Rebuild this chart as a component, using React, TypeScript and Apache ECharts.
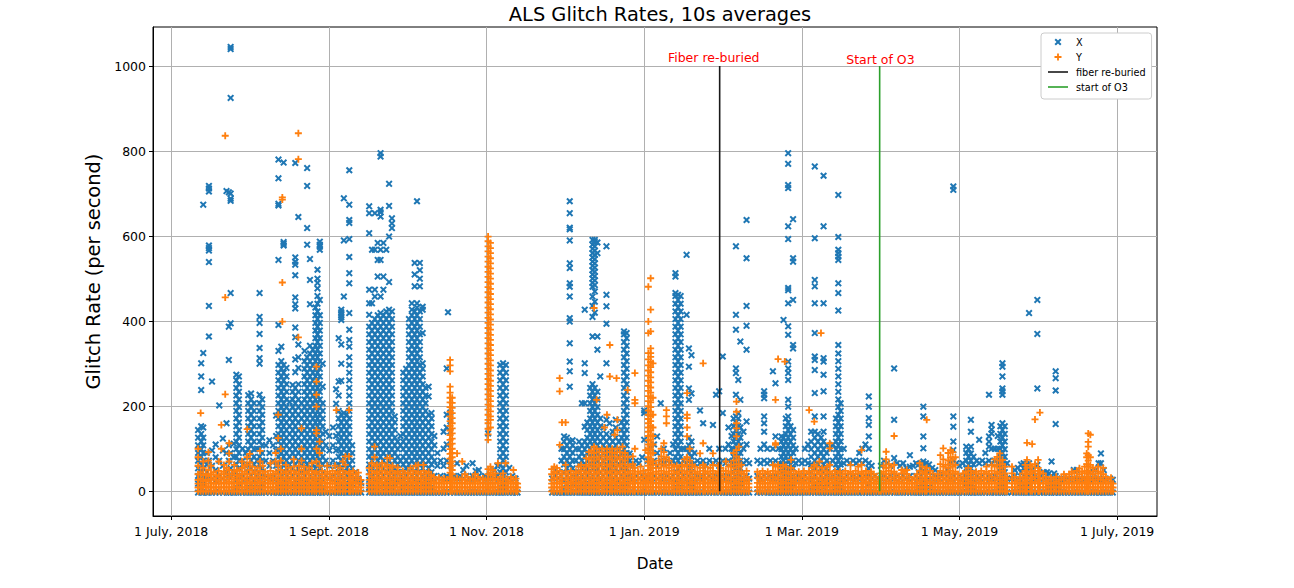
import React, { useEffect, useRef } from 'react'
import * as echarts from 'echarts'

// x values are days counted from 1 July 2018 (tick marks every 61 days)
const tickDays = [0, 61, 122, 183, 244, 305, 366]
const tickLabels = ['1 July, 2018', '1 Sept. 2018', '1 Nov. 2018', '1 Jan. 2019', '1 Mar. 2019', '1 May, 2019', '1 July, 2019']
const rateTicks = [0, 200, 400, 600, 800, 1000]

const fiberDay = 212.2
const o3Day = 274.1
const markerTop = 1000
const notes: [number, number, string][] = [
  [209.9, 1020, 'Fiber re-buried'],
  [274.4, 1016, 'Start of O3'],
]

// each column: [day, rate, rate, ...]
const xJulAug = [
  [10.4, -3, 18, 36, 54, 72, 90, 108, 126, 144],
  [11.6, -3, 9, 27, 45, 63, 81, 99, 117, 135, 153, 238, 270, 301],
  [12.4, -3, 18, 36, 54, 72, 90, 108, 126, 150, 325, 674],
  [13.8, -3, 27, 45, 63, 90],
  [14.6, -3, 36, 72, 364, 436, 539, 566, 572, 578, 705, 712, 718],
  [15.8, -3, 30, 60, 96, 258],
  [17.2, -3, 24, 50, 80, 110],
  [18.6, -3, 36, 72, 202],
  [20.0, -3, 30, 60, 96, 124],
  [21.4, -3, 45, 90, 160, 706],
  [22.3, -3, 36, 72, 108, 309, 387, 703],
  [23.0, -3, 54, 90, 395, 466, 683, 688, 700, 925, 1040, 1045],
  [24.2, -3, 40, 80, 112],
  [25.2, -3, 9, 27, 45, 63, 81, 99, 117, 135, 153, 171, 189, 207, 225, 243, 261, 274],
  [26.2, -3, 18, 36, 54, 72, 90, 108, 126, 144, 162, 180, 198, 216, 234, 252, 270],
  [27.6, -3, 36, 72, 100],
  [28.8, -3, 30, 60, 90],
  [29.8, -3, 9, 27, 45, 63, 81, 99, 117, 135, 153, 171, 189, 207, 226],
  [30.9, -3, 18, 36, 54, 72, 90, 108, 126, 144, 162, 180, 198, 216, 230],
  [32.0, -3, 9, 27, 45, 63, 81, 99, 117, 135, 153, 171, 189, 207],
  [33.2, -3, 36, 72, 100],
  [34.2, -3, 9, 27, 45, 63, 81, 99, 117, 135, 153, 171, 189, 207, 227, 300, 313, 337, 370, 396, 410, 466],
  [35.2, -3, 18, 36, 54, 72, 90, 108, 126, 144, 162, 180, 198, 216],
  [36.6, -3, 36, 72, 108],
  [38.0, -3, 30, 60, 90, 120],
  [39.4, -3, 36, 72, 108],
  [40.6, -3, 30, 60, 96, 130, 178],
  [41.5, -3, 9, 27, 45, 63, 81, 99, 117, 135, 153, 171, 189, 207, 225, 243, 261, 279, 297, 330, 391, 544, 672, 676, 736, 780],
  [42.6, -3, 18, 36, 54, 72, 90, 108, 126, 144, 162, 180, 198, 216, 234, 252, 270, 288, 306, 340],
  [43.5, -3, 9, 27, 45, 63, 81, 99, 117, 135, 153, 171, 189, 207, 225, 243, 261, 279, 297, 578, 582, 586, 773],
  [44.6, -3, 18, 36, 54, 72, 90, 108, 126, 144, 162, 180, 198, 216, 234, 252, 270, 290],
  [45.8, -3, 9, 27, 45, 63, 81, 99, 117, 135, 153, 171, 189, 210],
  [47.0, -3, 18, 36, 54, 72, 90, 108, 126, 144, 162, 180, 198, 216, 234, 250],
  [48.0, -3, 9, 27, 45, 63, 81, 99, 117, 135, 153, 171, 189, 207, 225, 243, 280, 310, 362, 385, 430, 440, 456, 508, 533, 540, 550, 772],
  [49.2, -3, 18, 36, 54, 72, 90, 108, 126, 144, 162, 180, 198, 216, 234, 252, 290, 315, 345, 645],
  [50.4, -3, 9, 27, 45, 63, 81, 99, 117, 135, 153, 171, 189, 207],
  [51.6, -3, 18, 36, 54, 72, 90, 108, 126, 144, 162, 180, 198, 216, 234, 252, 270, 288, 306, 330],
  [52.6, -3, 9, 27, 45, 63, 81, 99, 117, 135, 153, 171, 189, 207, 225, 243, 261, 279, 297, 315, 580, 619, 718, 760],
  [53.7, -3, 18, 36, 54, 72, 90, 108, 126, 144, 162, 180, 198, 216, 234, 252, 270, 288, 306, 324, 342, 440, 497, 546],
  [54.8, -3, 9, 27, 45, 63, 81, 99, 117, 135, 153, 171, 189, 207, 225, 243, 261, 279, 297, 315, 333],
  [55.8, -3, 18, 36, 54, 72, 90, 108, 126, 144, 162, 180, 198, 216, 234, 252, 270, 288, 306, 324, 342, 360, 378, 396, 414, 432],
  [56.6, -3, 9, 27, 45, 63, 81, 99, 117, 135, 153, 171, 189, 207, 225, 243, 261, 279, 297, 315, 333, 351, 369, 387, 405, 423, 441, 459, 477, 490, 500, 521],
  [57.5, -3, 18, 36, 54, 72, 90, 108, 126, 144, 162, 180, 198, 216, 234, 252, 270, 288, 306, 324, 342, 360, 378, 396, 414, 450, 568, 575, 580, 587],
  [58.6, -3, 9, 27, 45, 63, 81, 99, 117, 135, 153, 171, 189, 207, 246, 300],
  [59.8, -3, 36, 72, 108, 140],
  [61.2, -3, 30, 60, 96, 130],
  [62.6, -3, 36, 72, 108, 150],
  [63.8, -3, 30, 60, 96, 130, 206, 240],
  [64.8, -3, 9, 27, 45, 63, 81, 99, 117, 135, 153, 171, 189, 225, 258, 360],
  [65.8, -3, 18, 36, 54, 72, 90, 108, 126, 144, 162, 180, 260, 300, 345, 403, 409, 415, 421, 427],
  [66.8, -3, 9, 27, 45, 63, 81, 99, 117, 135, 153, 171, 184, 458, 590, 689],
  [67.9, -3, 18, 36, 54, 72, 90, 108, 126, 144, 162, 180],
  [68.9, -3, 9, 27, 45, 63, 81, 99, 117, 135, 153, 171, 189, 207, 225, 243, 261, 279, 297, 315, 340, 356, 380, 419, 489, 513, 551, 593, 631, 638, 674, 755],
  [70.0, -3, 18, 36, 54, 72, 90, 108],
  [71.2, -3, 27, 45],
  [72.4, -3, 30],
  [73.5, -3, 20],
]

const xSepOct = [
  [76.6, -3, 9, 27, 45, 63, 81, 99, 117, 135, 153, 171, 189, 207, 225, 243, 261, 279, 297, 315, 333, 351, 369, 387, 415, 442, 474, 607, 654, 670],
  [77.7, -3, 18, 36, 54, 72, 90, 108, 126, 144, 162, 180, 198, 216, 234, 252, 270, 288, 306, 324, 342, 360, 378, 396, 442, 568],
  [78.8, -3, 9, 27, 45, 63, 81, 99, 117, 135, 153, 171, 189, 207, 225, 243, 261, 279, 297, 315, 333, 351, 369, 387, 405, 458, 474, 568, 654],
  [79.9, -3, 18, 36, 54, 72, 90, 108, 126, 144, 162, 180, 198, 216, 234, 252, 270, 288, 306, 324, 342, 360, 378, 396, 414, 505, 544, 584],
  [81.0, -3, 9, 27, 45, 63, 81, 99, 117, 135, 153, 171, 189, 207, 225, 243, 261, 279, 297, 315, 333, 351, 369, 387, 405, 419, 458, 544, 568, 646, 656, 662, 787, 795],
  [82.1, -3, 18, 36, 54, 72, 90, 108, 126, 144, 162, 180, 198, 216, 234, 252, 270, 288, 306, 324, 342, 360, 378, 396, 414, 474, 505, 584],
  [83.2, -3, 9, 27, 45, 63, 81, 99, 117, 135, 153, 171, 189, 207, 225, 243, 261, 279, 297, 315, 333, 351, 369, 387, 405, 423, 568],
  [84.3, -3, 18, 36, 54, 72, 90, 108, 126, 144, 162, 180, 198, 216, 234, 252, 270, 288, 306, 324, 342, 360, 378, 396, 414, 427, 492, 599, 671, 723],
  [85.4, -3, 9, 27, 45, 63, 81, 99, 117, 135, 153, 171, 189, 207, 225, 243, 261, 279, 297, 315, 333, 351, 369, 387, 405, 423, 619, 630, 642],
  [86.5, -3, 18, 36, 54, 72, 90, 108, 126, 144, 162, 176],
  [87.6, -3, 27, 45, 63, 81, 99, 117],
  [88.7, -3, 36, 72, 108, 130],
  [89.8, -3, 9, 27, 45, 63, 81, 99, 117, 135, 153, 171, 189, 207, 225, 243, 261, 279],
  [90.9, -3, 18, 36, 54, 72, 90, 108, 126, 144, 162, 180, 198, 216, 234, 252, 270, 288],
  [92.0, -3, 9, 27, 45, 63, 81, 99, 117, 135, 153, 171, 189, 207, 225, 243, 261, 279, 297, 315, 333, 351, 369, 387, 405],
  [93.1, -3, 18, 36, 54, 72, 90, 108, 126, 144, 162, 180, 198, 216, 234, 252, 270, 288, 306, 324, 342, 360, 378, 396, 414, 427, 442],
  [94.2, -3, 9, 27, 45, 63, 81, 99, 117, 135, 153, 171, 189, 207, 225, 243, 261, 279, 297, 315, 333, 351, 369, 387, 405, 423, 482, 510, 537],
  [95.1, -3, 18, 36, 54, 72, 90, 108, 126, 144, 162, 180, 198, 216, 234, 252, 270, 288, 306, 324, 342, 360, 378, 396, 414, 432, 442, 682],
  [96.2, -3, 9, 27, 45, 63, 81, 99, 117, 135, 153, 171, 189, 207, 225, 243, 261, 279, 297, 315, 333, 351, 369, 387, 405, 423, 482, 500, 520, 537],
  [97.3, -3, 18, 36, 54, 72, 90, 108, 126, 144, 162, 180, 198, 216, 234, 252, 270, 288, 301, 372, 427, 434],
  [98.4, -3, 9, 27, 45, 63, 81, 99, 117, 135, 153, 171, 189, 207, 225, 243],
  [99.6, -3, 18, 36, 54, 72, 90, 108, 126, 144, 162, 180, 223, 246],
  [100.7, -3, 9, 27, 45, 63, 81, 99, 117, 135, 153, 171, 184],
  [101.8, -3, 36, 72, 108, 130],
  [103.0, -3, 30, 60, 90],
  [104.2, -3, 36, 72],
  [105.4, -3, 30, 60, 100, 140],
  [106.6, -3, 36, 72, 110, 150, 180, 289],
  [107.1, 421],
  [108.0, -3, 30, 60, 140, 165, 185],
  [109.4, -3, 36],
  [110.6, -3, 30, 66],
  [111.8, -3, 36],
  [113.0, -3, 30, 50],
  [114.2, -3, 36, 60],
  [115.4, -3, 30],
  [116.6, -3, 36, 66],
  [117.8, -3, 30, 48],
  [119.0, -3, 36, 50],
  [120.2, -3, 30],
  [121.4, -3, 36],
  [122.6, -3, 30, 136],
  [123.8, -3, 36],
  [125.0, -3, 30, 50],
  [126.2, -3, 36, 60],
  [127.3, -3, 9, 27, 45, 63, 81, 99, 117, 135, 153, 171, 189, 207, 225, 243, 261, 279, 297],
  [128.4, -3, 18, 36, 54, 72, 90, 108, 126, 144, 162, 180, 198, 216, 234, 252, 270, 288, 301],
  [129.5, -3, 9, 27, 45, 63, 81, 99, 117, 135, 153, 171, 189, 207, 225, 243, 261, 279, 297],
  [130.8, -3, 30, 55],
  [132.0, -3, 36],
  [133.2, -3, 30],
  [134.0, -3],
]

const xDecJan = [
  [147.4, -3, 30],
  [148.6, -3, 36, 50],
  [149.8, -3, 30, 45],
  [151.0, -3, 36, 72, 100],
  [152.0, -3, 9, 27, 45, 63, 81, 99, 117, 129],
  [153.1, -3, 18, 36, 54, 72, 90, 108, 126],
  [154.2, -3, 9, 27, 45, 63, 81, 99, 117, 246, 282, 305, 348, 399, 407, 458, 481, 489, 525, 536, 590, 616, 620, 654, 682],
  [155.3, -3, 18, 36, 54, 72, 90, 108, 120],
  [156.6, -3, 36, 72, 100],
  [157.8, -3, 9, 27, 45, 63, 81, 99, 117],
  [158.9, -3, 18, 36, 54, 72, 90, 108, 207],
  [160.0, -3, 9, 27, 45, 63, 81, 99, 117, 152, 207, 278, 301, 427],
  [161.0, -3, 18, 36, 54, 72, 90, 108, 126, 144, 162],
  [162.1, -3, 9, 27, 45, 63, 81, 99, 117, 135, 153, 171, 189, 207, 225, 243],
  [163.0, -3, 18, 36, 54, 72, 90, 108, 126, 144, 162, 180, 198, 216, 234, 252, 364, 410, 436, 458, 481, 490, 500, 510, 520, 530, 540, 550, 560, 570, 580, 591],
  [163.9, -3, 9, 27, 45, 63, 81, 99, 117, 135, 153, 171, 189, 207, 225, 243, 420, 446, 470, 485, 496, 506, 516, 526, 536, 546, 556, 566, 576, 586, 591],
  [164.9, -3, 18, 36, 54, 72, 90, 108, 126, 144, 162, 180, 198, 216, 234, 333, 364, 560, 585],
  [166.0, -3, 9, 27, 45, 63, 81, 99, 117, 135, 153, 171, 270],
  [167.2, -3, 18, 36, 54, 72, 90, 108, 126, 150],
  [168.4, -3, 9, 27, 45, 63, 81, 99, 117, 135, 168, 301, 394, 435, 462, 576],
  [169.6, -3, 18, 36, 54, 72, 90, 108, 126, 160],
  [170.8, -3, 9, 27, 45, 63, 81, 99, 117, 140],
  [172.0, -3, 18, 36, 54, 72, 90, 108, 126, 150, 168],
  [173.2, -3, 9, 27, 45, 63, 81, 99, 117],
  [174.3, -3, 18, 36, 54, 72, 90, 108, 126, 144, 162],
  [175.2, -3, 9, 27, 45, 63, 81, 99, 117, 135, 153, 171, 189, 207, 225, 243, 261, 279, 297, 315, 333, 351, 369, 376],
  [176.2, -3, 18, 36, 54, 72, 90, 108, 126, 144, 162, 180, 198, 216, 234, 252, 270, 288, 306, 324, 342, 360, 372],
  [177.4, -3, 36, 72, 89],
  [178.6, -3, 30, 60],
  [179.8, -3, 36, 72],
  [181.0, -3, 30, 66],
  [182.2, -3, 36, 80],
  [183.0, -3, 30, 121, 184, 190],
  [184.4, -3, 36, 72],
  [185.6, -3, 30, 66, 100],
  [186.8, -3, 36, 72, 110],
  [188.0, -3, 30, 60, 90, 129],
  [189.4, -3, 36, 72, 207],
  [190.6, -3, 30, 66, 100],
  [191.8, -3, 36, 72],
  [193.0, -3, 30, 66, 90],
  [194.2, -3, 36, 72, 110],
  [195.1, -3, 9, 27, 45, 63, 81, 99, 117, 135, 153, 171, 189, 207, 225, 243, 261, 279, 297, 315, 333, 351, 369, 387, 405, 423, 441, 459, 466, 505, 513],
  [196.1, -3, 18, 36, 54, 72, 90, 108, 126, 144, 162, 180, 198, 216, 234, 252, 270, 288, 306, 324, 342, 360, 378, 396, 414, 432, 450, 462],
  [197.1, -3, 9, 27, 45, 63, 81, 99, 117, 135, 153, 171, 189, 207, 225, 243, 261, 279, 297, 315, 333, 351, 369, 387, 405, 423, 441, 459],
  [198.2, -3, 36, 72, 100],
  [199.4, -3, 30, 66, 100, 415, 556],
  [200.3, -3, 18, 36, 54, 72, 90, 108, 126, 215, 242, 293, 336],
  [201.3, -3, 9, 27, 45, 63, 81, 99, 117, 230, 320],
  [202.4, -3, 30, 66, 90],
  [203.6, -3, 36, 72],
  [204.6, -3, 30, 66, 190],
  [205.8, -3, 36, 72, 160],
  [207.0, -3, 30, 60],
  [208.2, -3, 36, 72, 100],
  [209.6, -3, 30, 66, 156],
  [210.8, -3, 36, 72, 227],
  [212.0, -3, 30, 60, 100, 235],
  [213.4, -3, 36, 72, 184, 317],
]

const xFebMar = [
  [214.4, -3, 30, 66, 100],
  [215.6, -3, 36, 72, 110, 150],
  [216.8, -3, 30, 66, 100, 130],
  [217.6, -3, 9, 27, 45, 63, 81, 99, 117, 135, 153, 171],
  [218.5, -3, 18, 36, 54, 72, 90, 108, 126, 144, 162, 176, 227, 278, 289, 380, 415, 576],
  [219.4, -3, 9, 27, 45, 63, 81, 99, 117, 135, 153, 171, 184, 262],
  [220.2, -3, 18, 36, 54, 72, 90, 108, 126, 150, 215, 352],
  [221.4, -3, 30, 66, 100, 140],
  [222.6, -3, 36, 72, 110, 164, 333, 389, 436, 548, 638],
  [223.6, -3, 30, 66],
  [226.8, -3, 36, 72],
  [228.0, -3, 30, 66, 100],
  [229.4, -3, 36, 72, 110, 140, 160, 176, 219, 227, 235],
  [230.6, -3, 30, 66, 100],
  [231.8, -3, 36, 72],
  [232.8, -3, 30, 66, 100, 282],
  [233.8, -3, 36, 72, 129, 254],
  [235.0, -3, 30, 66, 100],
  [236.1, -3, 9, 27, 45, 63, 81, 99, 117, 129],
  [236.9, -3, 18, 36, 54, 72, 90, 108, 126, 403],
  [237.8, -3, 9, 27, 45, 63, 81, 99, 117, 135, 153, 171],
  [238.7, -3, 18, 36, 54, 72, 90, 108, 126, 144, 162, 176, 199, 215, 262, 278, 289, 305, 368, 388, 442, 473, 478, 593, 623, 713, 720, 770, 795],
  [239.6, -3, 9, 27, 45, 63, 81, 99, 117, 135, 153],
  [240.6, -3, 18, 36, 54, 72, 90, 108, 126, 144, 336, 344, 450, 540, 548, 640],
  [241.6, -3, 30, 66, 100],
  [242.8, -3, 36, 72],
  [244.0, -3, 30, 66],
  [245.2, -3, 36, 72, 100],
  [246.4, -3, 30, 66, 110],
  [247.6, -3, 9, 27, 45, 63, 81, 99, 117, 140],
  [249.0, -3, 18, 36, 54, 72, 90, 108, 126, 140, 176, 231, 285, 309, 317, 372, 442, 482, 497, 595, 764],
  [250.2, -3, 9, 27, 45, 63, 81, 99, 117, 135],
  [251.4, -3, 18, 36, 54, 72, 90, 108, 126],
  [252.4, -3, 9, 27, 45, 63, 81, 99, 117, 140, 176, 235, 274, 305, 313, 442, 623, 742],
  [253.6, -3, 18, 36, 54, 72, 90, 108],
  [254.8, -3, 30, 66, 100],
  [256.0, -3, 36, 72, 110],
  [257.2, -3, 9, 27, 45, 63, 81, 99, 117, 135, 153, 171],
  [258.1, -3, 18, 36, 54, 72, 90, 108, 126, 144, 162, 180, 198, 216, 234, 252, 270, 288, 306, 324, 344, 425, 466, 489, 544, 552, 560, 568, 598, 697],
  [259.0, -3, 9, 27, 45, 63, 81, 99, 117, 135, 153, 171, 189, 207],
  [260.2, -3, 30, 66, 100],
  [261.4, -3, 36, 72],
  [262.6, -3, 30, 66],
  [263.8, -3, 36, 72],
  [265.0, -3, 30, 66],
  [266.2, -3, 36, 72, 90],
  [267.4, -3, 30, 66, 100],
  [268.6, -3, 36, 72, 110],
  [269.9, -3, 18, 36, 54, 66, 100, 129, 156, 172, 199, 223],
  [271.0, -3, 30, 60],
  [272.2, -3, 36],
  [273.4, -3, 30],
]

const xAprJun = [
  [274.6, -3, 30, 60],
  [275.8, -3, 36, 72],
  [277.0, -3, 30, 66],
  [278.2, -3, 36, 60],
  [279.7, -3, 30, 78, 168, 289],
  [280.8, -3, 36, 66],
  [282.0, -3, 30, 60],
  [283.2, -3, 36, 66],
  [284.4, -3, 30, 55],
  [285.8, -3, 36, 58, 85],
  [287.0, -3, 30, 60],
  [288.2, -3, 36, 66],
  [289.2, -3, 9, 27, 45, 63],
  [290.2, -3, 18, 36, 54, 66],
  [291.0, -3, 9, 27, 45, 63, 70, 101, 129, 176, 199],
  [292.0, -3, 18, 36, 54, 66],
  [293.2, -3, 9, 27, 45, 63],
  [294.4, -3, 30, 55],
  [295.6, -3, 36, 50],
  [296.8, -3, 30],
  [298.0, -3, 36, 42],
  [299.2, -3, 30],
  [300.4, -3, 36, 50],
  [301.6, -3, 30, 66],
  [302.6, -3, 36, 72, 97, 117, 152, 176, 709, 717],
  [303.8, -3, 30, 66],
  [305.0, -3, 36, 60],
  [306.2, -3, 30, 66],
  [307.6, -3, 18, 36, 54, 72, 90, 105],
  [308.5, -3, 9, 27, 45, 63, 81, 99],
  [309.4, -3, 18, 36, 54, 72, 89, 105, 140, 168],
  [310.4, -3, 9, 27, 45, 63, 81],
  [311.6, -3, 36, 72],
  [312.6, -3, 30, 66, 121],
  [313.8, -3, 36, 72],
  [315.0, -3, 30, 66, 90],
  [316.4, -3, 36, 72, 105, 117, 129, 227],
  [317.4, -3, 30, 66, 100, 136, 145, 156],
  [318.6, -3, 36, 72, 100],
  [319.8, -3, 30, 66, 100, 130],
  [320.8, -3, 9, 27, 45, 63, 81, 99, 117, 135, 153],
  [321.6, -3, 18, 36, 54, 72, 90, 108, 126, 144, 160, 227, 235, 242, 270, 293, 301],
  [322.5, -3, 9, 27, 45, 63, 81, 99, 117, 135, 153],
  [323.4, -3, 30, 66],
  [325.2, -3, 30],
  [326.4, -3, 36, 50],
  [327.6, -3, 30, 55],
  [328.8, -3, 9, 27, 45, 63],
  [329.8, -3, 18, 36, 54, 66],
  [330.8, -3, 9, 27, 45, 55, 63],
  [331.9, -3, 18, 36, 54, 66, 419],
  [333.0, -3, 30, 50],
  [334.2, -3, 36],
  [335.1, -3, 30, 62, 242, 370, 450],
  [336.4, -3, 36],
  [337.6, -3, 30, 45],
  [338.8, -3, 36, 45],
  [339.6, -3, 9, 27, 42],
  [340.6, -3, 18, 36, 70],
  [341.6, -3, 9, 27, 42],
  [342.2, -3, 18, 36, 158, 237, 266, 282],
  [343.2, -3, 9, 27],
  [344.4, -3, 30],
  [345.6, -3, 27],
  [346.8, -3, 30],
  [348.0, -3, 27],
  [349.2, -3, 30, 50],
  [350.4, -3, 27, 50],
  [351.6, -3, 30],
  [352.8, -3, 27],
  [354.0, -3, 30],
  [355.2, -3, 27, 45],
  [356.4, -3, 30],
  [357.6, -3, 27, 50],
  [358.8, -3, 30, 66],
  [359.7, -3, 27, 66, 89],
  [360.8, -3, 30, 50],
  [362.0, -3, 27],
  [363.2, -3, 30],
  [364.3, -3, 27],
]

const yJulAug = [
  [10.4, 0, 9, 18, 27, 40, 60, 80, 100],
  [11.4, 0, 9, 18, 30, 45, 184],
  [12.4, 0, 12, 24, 38, 55, 70],
  [13.4, 0, 9, 18, 27, 40],
  [14.4, 0, 12, 24, 36, 50, 72, 92],
  [15.4, 0, 9, 18, 28, 40, 60],
  [16.4, 0, 10, 20, 32, 45],
  [17.4, 0, 9, 18, 27, 38],
  [18.4, 0, 10, 22, 34, 48, 70],
  [19.4, 0, 9, 18, 28, 40, 100, 156],
  [20.4, 0, 10, 20, 32, 46, 62],
  [20.9, 228, 456, 836],
  [21.4, 0, 9, 18, 27, 40, 55],
  [22.4, 0, 10, 22, 34, 50, 70, 89, 113],
  [23.4, 0, 9, 18, 28, 40],
  [24.4, 0, 10, 20, 32, 46, 62],
  [25.4, 0, 9, 18, 27, 38, 50],
  [26.4, 0, 10, 22, 34, 48],
  [27.4, 0, 9, 18, 28, 40, 55, 70],
  [28.4, 0, 10, 20, 32, 46, 60],
  [29.4, 0, 9, 18, 27, 40, 62, 80, 146],
  [30.4, 0, 10, 22, 34, 50, 68, 88],
  [31.4, 0, 9, 18, 28, 42, 58],
  [32.4, 0, 10, 20, 32, 46],
  [33.4, 0, 9, 18, 27, 40, 55],
  [34.4, 0, 10, 22, 34, 48, 70, 95],
  [35.4, 0, 9, 18, 28, 42, 60],
  [36.4, 0, 10, 20, 32, 46],
  [37.4, 0, 9, 18, 27, 38],
  [38.4, 0, 10, 22, 34, 48, 66],
  [39.4, 0, 9, 18, 28, 40],
  [40.4, 0, 10, 20, 32, 46, 70, 90],
  [41.4, 0, 9, 18, 27, 40, 60, 125, 180],
  [42.4, 0, 10, 22, 34, 50, 72, 100],
  [43.0, 399, 491, 686, 691],
  [43.4, 0, 9, 18, 28, 42],
  [44.4, 0, 10, 20, 32, 46, 62],
  [45.4, 0, 9, 18, 27, 40, 55],
  [46.4, 0, 10, 22, 34, 48],
  [47.4, 0, 9, 18, 28, 42, 58, 75],
  [48.4, 0, 10, 20, 32, 46],
  [49.2, 362, 781, 842],
  [49.4, 0, 9, 18, 27, 40, 60],
  [50.4, 0, 10, 22, 34, 50, 72, 100, 148],
  [51.4, 0, 9, 18, 28, 42, 58],
  [52.4, 0, 10, 20, 32, 46],
  [53.4, 0, 9, 18, 27, 40, 55],
  [54.4, 0, 10, 22, 34, 48, 66],
  [55.4, 0, 9, 18, 28, 42],
  [56.2, 0, 10, 20, 32, 46, 70, 100, 136, 144, 199, 227, 258, 293],
  [57.4, 0, 9, 18, 27, 40, 60, 90, 117],
  [58.4, 0, 10, 22, 34, 48],
  [59.4, 0, 9, 18, 28, 40],
  [60.4, 0, 10, 20, 32, 46, 60],
  [61.4, 0, 9, 18, 27, 40],
  [62.4, 0, 10, 22, 34, 48],
  [63.4, 0, 9, 18, 28, 42, 60],
  [63.9, 191],
  [64.4, 0, 10, 20, 32, 46],
  [65.4, 0, 9, 18, 27, 40, 55],
  [66.4, 0, 10, 22, 34, 48, 70],
  [67.4, 0, 9, 18, 28, 42, 62, 82],
  [68.8, 0, 10, 20, 32, 46, 82, 191],
  [69.4, 0, 9, 18, 27, 40],
  [70.4, 0, 10, 22, 34, 48],
  [71.4, 0, 9, 18, 28, 40],
  [72.4, 0, 10, 20, 32, 44],
  [73.4, 0, 9, 18, 27],
]

const ySepOct = [
  [76.6, 0, 9, 18, 27, 40, 55],
  [77.6, 0, 10, 22, 34, 48, 66],
  [78.7, 0, 9, 18, 28, 42, 60, 80, 105],
  [79.6, 0, 10, 20, 32, 46, 62],
  [80.6, 0, 9, 18, 27, 40, 55],
  [81.6, 0, 10, 22, 34, 48, 66],
  [82.6, 0, 9, 18, 28, 42, 58],
  [83.6, 0, 10, 20, 32, 46, 62, 78],
  [84.6, 0, 9, 18, 27, 40, 55, 78],
  [85.6, 0, 10, 22, 34, 48, 60],
  [86.6, 0, 9, 18, 28, 42],
  [87.6, 0, 10, 20, 32, 46, 56],
  [88.6, 0, 9, 18, 27, 40],
  [89.6, 0, 10, 22, 34, 48],
  [90.6, 0, 9, 18, 28, 42],
  [91.6, 0, 10, 20, 32, 44],
  [92.6, 0, 9, 18, 27, 40, 55],
  [93.6, 0, 10, 22, 34, 48],
  [94.6, 0, 9, 18, 28, 42, 60],
  [95.6, 0, 10, 20, 32, 46, 62],
  [96.6, 0, 9, 18, 27, 40],
  [97.6, 0, 10, 22, 34, 48, 62],
  [98.6, 0, 9, 18, 28, 42],
  [99.6, 0, 10, 20, 32, 46],
  [100.6, 0, 9, 18, 27, 38],
  [101.6, 0, 10, 22, 34],
  [102.6, 0, 9, 18, 28],
  [103.6, 0, 10, 20, 32],
  [104.6, 0, 9, 18, 27],
  [105.6, 0, 10, 22, 30],
  [106.6, 0, 9, 18, 28],
  [107.9, 0, 11, 22, 33, 44, 55, 66, 77, 88, 99, 110, 121, 132, 143, 154, 165, 176, 187, 198, 209, 220, 232, 246, 282, 296, 309],
  [108.7, 0, 10, 20, 30, 40, 50, 60, 70, 80, 90, 100, 112, 124, 136, 148, 160, 172, 184, 196, 208, 220],
  [109.6, 0, 9, 18, 27],
  [110.6, 0, 10, 20, 30, 89],
  [111.6, 0, 9, 18, 28],
  [112.6, 0, 10, 20, 30, 70],
  [113.6, 0, 9, 18, 27, 40],
  [114.6, 0, 10, 22, 34],
  [115.6, 0, 9, 18, 28],
  [116.6, 0, 10, 20, 30],
  [117.6, 0, 9, 18, 27, 40],
  [118.6, 0, 10, 22, 34],
  [119.6, 0, 9, 18, 28],
  [120.6, 0, 10, 20, 30],
  [121.6, 0, 9, 18, 27],
  [122.6, 0, 9, 18, 28, 40, 52, 121, 134, 147, 160, 168, 180, 192, 204, 216, 228, 240, 252, 264, 276, 288, 300, 312, 324, 336, 348, 360, 372, 384, 396, 408, 420, 432, 444, 456, 468, 480, 492, 504, 516, 528, 540, 552, 564, 576, 588, 599],
  [123.5, 0, 10, 20, 30, 44, 58, 150, 168, 176, 188, 200, 212, 224, 236, 248, 260, 272, 284, 296, 308, 320, 332, 344, 356, 368, 380, 392, 404, 416, 428, 440, 452, 464, 476, 488, 500, 512, 524, 536, 548, 560, 572, 584],
  [124.4, 0, 9, 18, 28, 38, 50],
  [125.4, 0, 10, 20, 30, 42],
  [126.4, 0, 9, 18, 27, 66],
  [127.4, 0, 10, 22, 34],
  [128.4, 0, 9, 18, 28, 42],
  [129.4, 0, 10, 20, 30, 66],
  [130.4, 0, 9, 18, 27],
  [131.4, 0, 10, 22, 34],
  [132.4, 0, 9, 18, 28, 50],
  [133.4, 0, 10, 20, 30],
  [134.0, 0, 9, 18],
]

const yDecJan = [
  [147.2, 0, 9, 18, 27, 40, 52],
  [148.2, 0, 10, 20, 32, 46, 58],
  [149.2, 0, 9, 18, 28, 42, 55],
  [150.3, 0, 10, 22, 34, 48, 109, 235, 266],
  [151.2, 0, 9, 18, 27, 40, 162],
  [152.6, 0, 10, 20, 32, 46, 62, 162],
  [153.6, 0, 9, 18, 28, 40],
  [154.6, 0, 10, 22, 34, 48],
  [155.6, 0, 9, 18, 27, 40],
  [156.6, 0, 10, 20, 32, 46],
  [157.6, 0, 9, 18, 28, 42, 58],
  [158.6, 0, 10, 22, 34, 48, 62],
  [159.6, 0, 9, 18, 27, 40, 55],
  [160.6, 0, 10, 20, 32, 46, 62, 78],
  [161.6, 0, 9, 18, 28, 42, 58, 75, 92],
  [162.6, 0, 10, 22, 34, 48, 64, 80, 96],
  [163.6, 0, 9, 18, 27, 40, 55, 72, 90, 105, 431],
  [164.6, 0, 10, 20, 32, 46, 62, 80, 100, 215],
  [165.6, 0, 9, 18, 28, 42, 58, 75, 92],
  [166.6, 0, 10, 22, 34, 48, 64, 82, 100],
  [167.6, 0, 9, 18, 27, 40, 55, 72, 90, 150],
  [168.6, 0, 10, 20, 32, 46, 62, 80, 100, 180],
  [169.7, 0, 9, 18, 28, 42, 58, 75, 92, 270, 344],
  [170.6, 0, 10, 22, 34, 48, 64, 82, 100],
  [171.6, 0, 9, 18, 27, 40, 55, 72, 90, 133],
  [172.3, 266],
  [172.6, 0, 10, 20, 32, 46, 62, 80, 100, 144, 168],
  [173.6, 0, 9, 18, 28, 42, 58, 75, 92],
  [174.6, 0, 10, 22, 34, 48, 64, 82, 105],
  [175.6, 0, 9, 18, 27, 40, 55, 72, 90],
  [176.6, 0, 10, 20, 32, 46, 62, 80, 238],
  [177.6, 0, 9, 18, 28, 42, 58],
  [178.6, 0, 10, 22, 34, 48, 64, 82],
  [179.4, 0, 9, 18, 27, 40, 55, 100, 207, 215, 278],
  [180.6, 0, 10, 20, 32, 46],
  [181.6, 0, 9, 18, 28, 42, 58],
  [182.6, 0, 10, 22, 34, 48],
  [183.6, 0, 9, 18, 27, 40, 97],
  [184.6, 0, 10, 20, 30, 40, 50, 60, 70, 80, 90, 100, 110, 120, 130, 140, 150, 160, 170, 180, 190, 200, 212, 224, 236, 248, 260, 272, 284, 296, 310, 325, 372, 399, 481],
  [185.5, 0, 11, 22, 33, 44, 55, 66, 77, 88, 99, 110, 121, 132, 143, 154, 165, 176, 187, 198, 209, 220, 232, 244, 256, 268, 280, 292, 304, 316, 325, 336, 376, 427, 501],
  [186.4, 0, 9, 18, 28, 40, 55, 70, 90, 110, 130, 150, 180, 220, 301],
  [187.6, 0, 10, 20, 32, 46, 62],
  [188.6, 0, 9, 18, 27, 40, 55, 72],
  [189.6, 0, 10, 22, 34, 48, 64, 82, 100],
  [190.6, 0, 9, 18, 28, 42, 58, 75, 92, 113],
  [191.6, 0, 10, 20, 32, 46, 62, 80, 160, 176, 191],
  [192.6, 0, 9, 18, 27, 40, 55, 72],
  [193.6, 0, 10, 22, 34, 48, 62],
  [194.6, 0, 9, 18, 28, 42, 58],
  [195.6, 0, 10, 20, 32, 46, 60],
  [196.6, 0, 9, 18, 27, 40, 55],
  [197.6, 0, 10, 22, 34, 48, 62],
  [198.6, 0, 9, 18, 28, 42, 58, 75],
  [199.6, 0, 10, 20, 32, 46, 62, 80, 129, 150, 172, 180, 231],
  [200.6, 0, 9, 18, 27, 40, 55, 72, 100],
  [201.6, 0, 10, 22, 34, 48, 62],
  [202.6, 0, 9, 18, 28, 42, 58],
  [203.6, 0, 10, 20, 32, 46],
  [204.6, 0, 9, 18, 27, 40, 55, 89],
  [205.8, 0, 10, 22, 34, 48, 62, 113, 301],
  [206.6, 0, 9, 18, 28, 42, 58],
  [207.6, 0, 10, 20, 32, 46],
  [208.6, 0, 9, 18, 27, 40, 55],
  [209.6, 0, 10, 22, 34, 48, 62, 89],
  [210.6, 0, 9, 18, 28, 42],
  [211.6, 0, 10, 20, 32, 46, 60],
  [212.6, 0, 9, 18, 27, 40, 55],
  [213.6, 0, 10, 22, 34, 48],
]

const yFebMar = [
  [214.6, 0, 10, 22, 34, 48, 70],
  [215.6, 0, 9, 18, 28, 42, 58],
  [216.6, 0, 10, 20, 32, 46, 62],
  [217.6, 0, 9, 18, 27, 40, 55, 72, 90],
  [218.7, 0, 10, 22, 34, 48, 64, 82, 97, 129, 148, 160, 187, 211],
  [219.6, 0, 9, 18, 28, 42, 58, 75, 105],
  [220.6, 0, 10, 20, 32, 46, 62],
  [221.6, 0, 9, 18, 27, 40],
  [222.6, 0, 10, 22, 34, 48],
  [223.5, 0, 9, 18, 28],
  [226.8, 0, 10, 20, 32, 46],
  [227.8, 0, 9, 18, 27, 40],
  [228.8, 0, 10, 22, 34, 48],
  [229.8, 0, 9, 18, 28, 42],
  [230.8, 0, 10, 20, 32, 46],
  [231.8, 0, 9, 18, 27, 40],
  [232.8, 0, 10, 22, 34, 48, 62],
  [233.8, 0, 9, 18, 28, 42, 58, 109, 113, 215],
  [234.8, 0, 10, 20, 32, 46, 62, 311],
  [235.8, 0, 9, 18, 27, 40, 55],
  [236.8, 0, 10, 22, 34, 48, 62],
  [237.4, 305],
  [237.8, 0, 9, 18, 28, 42, 58],
  [238.8, 0, 10, 20, 32, 46],
  [239.8, 0, 9, 18, 27, 40, 55, 74],
  [240.8, 0, 10, 22, 34, 48],
  [241.8, 0, 9, 18, 28, 42],
  [242.8, 0, 10, 20, 32, 46],
  [243.8, 0, 9, 18, 27, 40],
  [244.8, 0, 10, 22, 34, 48],
  [245.8, 0, 9, 18, 28, 42],
  [246.8, 0, 10, 20, 32, 46, 191],
  [247.8, 0, 9, 18, 27, 40, 55],
  [248.8, 0, 10, 22, 34, 48, 62, 164],
  [249.8, 0, 9, 18, 28, 42, 58],
  [250.8, 0, 10, 20, 32, 46, 70],
  [251.4, 372],
  [251.8, 0, 9, 18, 27, 40, 55],
  [252.8, 0, 10, 22, 34, 48],
  [253.8, 0, 9, 18, 28, 42, 58],
  [254.8, 0, 10, 20, 32, 46, 62, 101, 113],
  [255.8, 0, 9, 18, 27, 40],
  [256.8, 0, 10, 22, 34, 48],
  [257.8, 0, 9, 18, 28, 42],
  [258.8, 0, 10, 20, 32, 46],
  [259.8, 0, 9, 18, 27, 40],
  [260.8, 0, 10, 22, 34, 48],
  [261.8, 0, 9, 18, 28, 42],
  [262.8, 0, 10, 20, 32, 46, 62],
  [263.8, 0, 9, 18, 27, 40],
  [264.8, 0, 10, 22, 34, 48],
  [265.8, 0, 9, 18, 28, 42, 58],
  [267.1, 0, 10, 20, 32, 46, 62, 97],
  [267.8, 0, 9, 18, 27, 40],
  [268.8, 0, 10, 22, 34, 48],
  [269.8, 0, 9, 18, 28, 42],
  [270.8, 0, 10, 20, 32, 46],
  [271.8, 0, 9, 18, 27, 40],
  [272.8, 0, 10, 22, 34],
  [273.8, 0, 9, 18, 28],
]

const yAprJun = [
  [274.6, 0, 9, 18, 28, 42],
  [275.6, 0, 10, 20, 32, 46, 60],
  [276.6, 0, 9, 18, 27, 40, 55, 75, 93],
  [277.6, 0, 10, 22, 34, 48, 64],
  [278.6, 0, 9, 18, 28, 42, 58],
  [279.7, 0, 10, 20, 32, 46, 62, 130],
  [280.6, 0, 9, 18, 27, 40],
  [281.6, 0, 10, 22, 34],
  [282.6, 0, 9, 18, 28, 42, 50],
  [283.6, 0, 10, 20, 32, 46],
  [284.6, 0, 9, 18, 27, 40, 50],
  [285.6, 0, 10, 22, 34],
  [286.6, 0, 9, 18, 28],
  [287.6, 0, 10, 20, 32],
  [288.6, 0, 9, 18, 27, 40],
  [289.6, 0, 10, 22, 34, 48, 66],
  [290.6, 0, 9, 18, 28, 42, 58],
  [291.6, 0, 10, 20, 32, 46],
  [292.3, 0, 9, 18, 27, 40, 55, 168],
  [293.6, 0, 10, 22, 34, 48],
  [294.6, 0, 9, 18, 28, 42],
  [295.6, 0, 10, 20, 32],
  [296.6, 0, 9, 18, 27, 40],
  [297.6, 0, 10, 22, 34, 48, 64, 85],
  [298.7, 0, 9, 18, 28, 42, 58, 75, 101],
  [299.6, 0, 10, 20, 32, 46, 62],
  [300.6, 0, 9, 18, 27, 40, 55, 72, 90],
  [301.5, 0, 10, 22, 34, 48, 64, 80, 97],
  [302.4, 0, 9, 18, 28, 42, 58, 75, 92],
  [303.4, 0, 10, 20, 32, 46, 62, 80],
  [304.4, 0, 9, 18, 27, 40],
  [305.4, 0, 10, 22, 34],
  [306.4, 0, 9, 18, 28, 42],
  [307.4, 0, 10, 20, 32, 46],
  [308.4, 0, 9, 18, 27, 40, 55],
  [309.4, 0, 10, 22, 34, 48],
  [310.4, 0, 9, 18, 28, 42],
  [311.4, 0, 10, 20, 32, 46],
  [312.4, 0, 9, 18, 27, 40],
  [313.4, 0, 10, 22, 34, 48],
  [314.4, 0, 9, 18, 28, 42],
  [315.4, 0, 10, 20, 32, 46, 58],
  [316.4, 0, 9, 18, 27, 40],
  [317.4, 0, 10, 22, 34, 48, 62],
  [318.6, 0, 9, 18, 28, 42, 58, 75],
  [319.6, 0, 10, 20, 32, 46, 62, 81],
  [320.6, 0, 9, 18, 27, 40, 55, 72, 89],
  [321.6, 0, 10, 22, 34, 48, 64, 74],
  [322.6, 0, 9, 18, 28, 42, 58],
  [323.4, 0, 10, 20, 32],
  [325.3, 0, 9, 18, 28, 42, 58],
  [326.4, 0, 10, 22, 34],
  [327.4, 0, 9, 18, 27],
  [328.4, 0, 10, 20, 32],
  [329.4, 0, 9, 18, 28, 42],
  [330.4, 0, 10, 22, 34, 48, 62],
  [331.1, 0, 9, 18, 27, 40, 55, 74, 114],
  [332.4, 0, 10, 20, 32, 46, 62],
  [333.1, 0, 9, 18, 28, 42, 58, 111],
  [334.2, 0, 10, 22, 34, 48, 64, 169],
  [335.4, 0, 9, 18, 27, 40, 55, 74],
  [336.1, 0, 10, 20, 32, 46, 185],
  [337.4, 0, 9, 18, 28, 42],
  [338.4, 0, 10, 22, 34],
  [339.4, 0, 9, 18, 27],
  [340.4, 0, 10, 20, 32],
  [341.4, 0, 9, 18, 28],
  [342.4, 0, 10, 22, 34],
  [343.4, 0, 9, 18, 27],
  [344.4, 0, 10, 20, 32],
  [345.4, 0, 9, 18, 28, 40],
  [346.4, 0, 10, 22, 34],
  [347.4, 0, 9, 18, 27, 40],
  [348.4, 0, 10, 20, 32, 46],
  [349.4, 0, 9, 18, 28, 42],
  [350.4, 0, 10, 22, 34, 48],
  [351.4, 0, 9, 18, 27, 40, 54],
  [352.4, 0, 10, 20, 32, 46],
  [353.4, 0, 9, 18, 28, 42, 58],
  [354.2, 0, 10, 22, 34, 48, 64, 80, 89],
  [354.8, 0, 9, 18, 28, 42, 58, 72, 85, 105, 116, 136],
  [355.6, 0, 10, 20, 32, 46, 62, 80, 133],
  [356.6, 0, 9, 18, 27, 40, 55],
  [357.6, 0, 10, 22, 34, 48],
  [358.6, 0, 9, 18, 28, 42, 58],
  [359.6, 0, 10, 20, 32, 46],
  [360.6, 0, 9, 18, 27, 40, 55],
  [361.6, 0, 10, 22, 34],
  [362.6, 0, 9, 18, 28],
  [363.6, 0, 10, 20, 32],
  [364.4, 0, 9, 18],
]

const toPoints = (cols: number[][]) => cols.flatMap(([day, ...rates]) => rates.map((r) => [day, r]))

const FONT = 'DejaVu Sans'
const X_MARK = 'path://M0,2L2,0L5,3L8,0L10,2L7,5L10,8L8,10L5,7L2,10L0,8L3,5Z'
const PLUS_MARK = 'path://M3.7,0H6.3V3.7H10V6.3H6.3V10H3.7V6.3H0V3.7H3.7Z'
const LINE_ICON = 'path://M0,0H20V1.6H0Z'

export default function App() {
  const chartRef = useRef<HTMLDivElement>(null)

  useEffect(() => {
    const chart = echarts.init(chartRef.current, null, { renderer: 'svg' })
    const xData = toPoints([...xJulAug, ...xSepOct, ...xDecJan, ...xFebMar, ...xAprJun])
    const yData = toPoints([...yJulAug, ...ySepOct, ...yDecJan, ...yFebMar, ...yAprJun])
    chart.setOption({
      animation: false,
      backgroundColor: '#ffffff',
      title: {
        text: 'ALS Glitch Rates, 10s averages',
        left: 655,
        top: 0,
        textAlign: 'center',
        textStyle: { fontFamily: FONT, fontSize: 19.4, fontWeight: 'normal', color: '#000' },
      },
      grid: { left: 153, right: 137, top: 27, bottom: 72, show: true, borderColor: '#000', borderWidth: 1 },
      legend: {
        data: [
          { name: 'X' },
          { name: 'Y' },
          { name: 'fiber re-buried', icon: LINE_ICON },
          { name: 'start of O3', icon: LINE_ICON },
        ],
        orient: 'vertical',
        left: 1041,
        top: 33,
        padding: [3, 6, 6, 7],
        itemWidth: 20,
        itemHeight: 7,
        itemGap: 3,
        borderColor: '#cccccc',
        borderWidth: 1,
        borderRadius: 3,
        backgroundColor: '#fff',
        textStyle: { fontFamily: FONT, fontSize: 9.7, color: '#000', lineHeight: 12, padding: [0, 0, 0, 3] },
      },
      xAxis: {
        type: 'value',
        min: -7.04,
        max: 381.4,
        name: 'Date',
        nameLocation: 'middle',
        nameGap: 40,
        nameTextStyle: { fontFamily: FONT, fontSize: 15.3, color: '#000' },
        axisLine: { onZero: false, lineStyle: { color: '#000', width: 1 } },
        axisTick: { customValues: tickDays, length: 4, lineStyle: { color: '#000' } },
        axisLabel: {
          customValues: tickDays,
          formatter: (v: number) => tickLabels[tickDays.indexOf(v)] ?? '',
          fontFamily: FONT,
          fontSize: 12.5,
          color: '#000',
          margin: 9,
        },
        splitLine: { show: true, lineStyle: { color: '#b0b0b0', width: 1 } },
      },
      yAxis: {
        type: 'value',
        min: -58.1,
        max: 1091.8,
        name: 'Glitch Rate (per second)',
        nameLocation: 'middle',
        nameGap: 44,
        nameTextStyle: { fontFamily: FONT, fontSize: 19.4, color: '#000' },
        axisLine: { onZero: false, lineStyle: { color: '#000', width: 1 } },
        axisTick: { customValues: rateTicks, length: 4, lineStyle: { color: '#000' } },
        axisLabel: {
          customValues: rateTicks,
          formatter: (v: number) => String(v),
          fontFamily: FONT,
          fontSize: 12.5,
          color: '#000',
          margin: 7,
        },
        splitLine: { show: true, lineStyle: { color: '#b0b0b0', width: 1 } },
      },
      series: [
        {
          name: 'X',
          type: 'scatter',
          data: xData,
          symbol: X_MARK,
          symbolSize: 7,
          symbolKeepAspect: true,
          itemStyle: { color: '#1f77b4', opacity: 1 },
          emphasis: { disabled: true },
          z: 2,
        },
        {
          name: 'Y',
          type: 'scatter',
          data: yData,
          symbol: PLUS_MARK,
          symbolSize: 7,
          symbolKeepAspect: true,
          itemStyle: { color: '#ff7f0e', opacity: 1 },
          emphasis: { disabled: true },
          z: 3,
        },
        {
          name: 'fiber re-buried',
          type: 'line',
          data: [[fiberDay, 0], [fiberDay, markerTop]],
          symbol: 'none',
          lineStyle: { color: '#1a1a1a', width: 1.6 },
          itemStyle: { color: '#1a1a1a' },
          z: 4,
        },
        {
          name: 'start of O3',
          type: 'line',
          data: [[o3Day, 0], [o3Day, markerTop]],
          symbol: 'none',
          lineStyle: { color: '#2ca02c', width: 1.6 },
          itemStyle: { color: '#2ca02c' },
          z: 4,
        },
        {
          name: 'notes',
          type: 'scatter',
          data: notes.map(([d, r, t]) => ({ value: [d, r], label: { formatter: t } })),
          symbolSize: 0,
          silent: true,
          itemStyle: { opacity: 1 },
          label: { show: true, position: 'inside', color: '#ff0000', opacity: 1, fontFamily: FONT, fontSize: 12.5 },
          z: 5,
        },
      ],
    })
    return () => chart.dispose()
  }, [])

  return <div ref={chartRef} style={{ position: 'fixed', left: 0, top: 0, width: 1294, height: 588 }} />
}
